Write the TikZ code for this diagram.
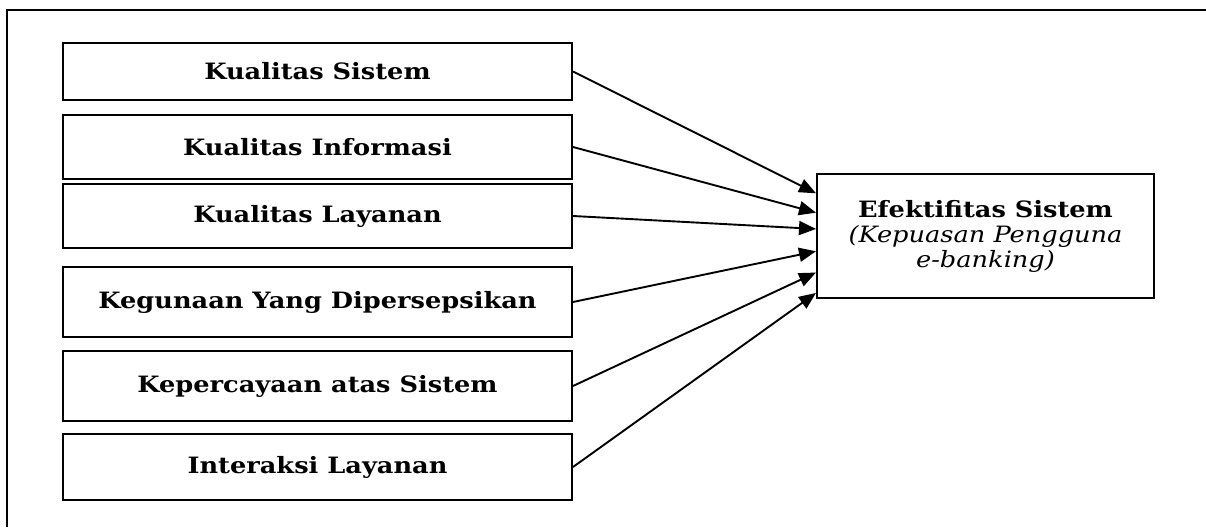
\documentclass[tikz,border=0pt]{standalone}
\usepackage{fontspec}
\setmainfont{DejaVu Serif}[FakeStretch=1.14]
\usetikzlibrary{arrows.meta,calc}
\tikzset{
  factor/.style={draw, line width=2pt, inner sep=0pt, minimum width=509pt,
    font=\fontsize{22.5}{25}\selectfont\bfseries},
  outcome/.style={draw, line width=2pt, inner sep=0pt, minimum width=337pt,
    minimum height=124pt, align=center, font=\fontsize{22.5}{25}\selectfont},
  link/.style={line width=1.9pt, -{Triangle[length=17pt,width=14pt]}},
  frame/.style={line width=1.6pt}
}
\begin{document}
\begin{tikzpicture}[x=1pt,y=-1pt]
\useasboundingbox (0,0) rectangle (1206,527);
\draw[frame] (7,527) -- (7,10) -- (1206,10);

\node[factor, minimum height=57pt] (b1) at (317.5,71.5) {Kualitas Sistem};
\node[factor, minimum height=64pt] (b2) at (317.5,147) {Kualitas Informasi};
\node[factor, minimum height=64pt] (b3) at (317.5,216) {Kualitas Layanan};
\node[factor, minimum height=70pt] (b4) at (317.5,302) {Kegunaan Yang Dipersepsikan};
\node[factor, minimum height=70pt] (b5) at (317.5,386) {Kepercayaan atas Sistem};
\node[factor, minimum height=66pt] (b6) at (317.5,467) {Interaksi Layanan};

\node[outcome] (eff) at (985.5,236) {\textbf{Efektifitas Sistem}\\
  \textit{(Kepuasan Pengguna}\\ \textit{e-banking)}};

\draw[link] (b1.east) -- ($(eff.north west)!0.161!(eff.south west)$);
\draw[link] (b2.east) -- ($(eff.north west)!0.315!(eff.south west)$);
\draw[link] (b3.east) -- ($(eff.north west)!0.444!(eff.south west)$);
\draw[link] (b4.east) -- ($(eff.north west)!0.621!(eff.south west)$);
\draw[link] (b5.east) -- ($(eff.north west)!0.790!(eff.south west)$);
\draw[link] (b6.east) -- ($(eff.north west)!0.952!(eff.south west)$);
\end{tikzpicture}
\end{document}
